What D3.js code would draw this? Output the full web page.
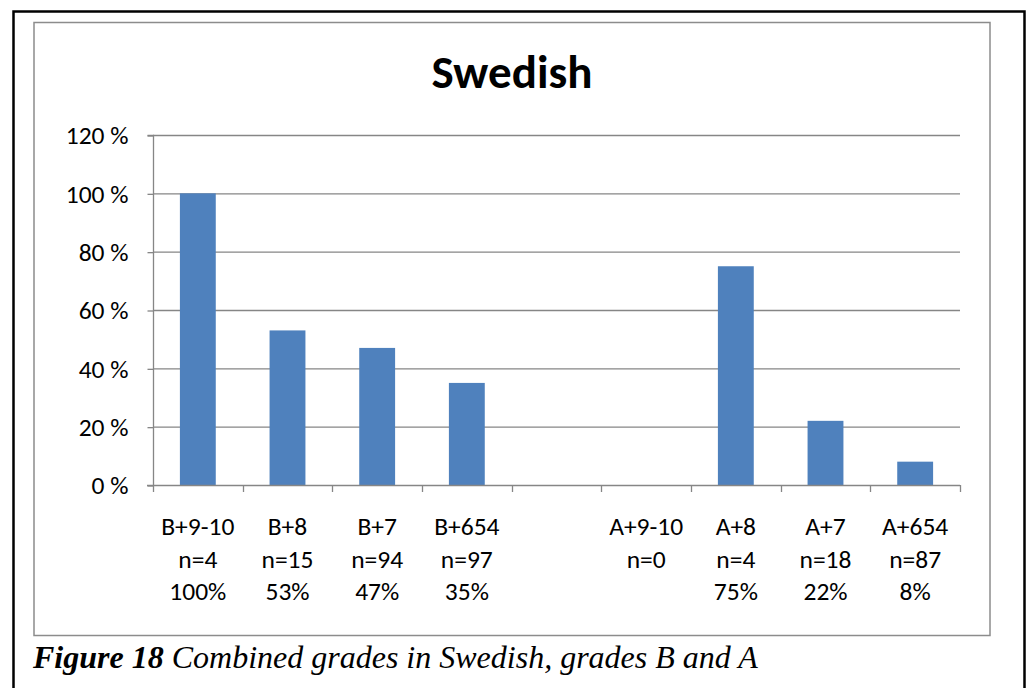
<!DOCTYPE html>
<html><head><meta charset="utf-8">
<script src="https://cdn.jsdelivr.net/npm/d3@7"></script>
<style>body{margin:0;background:#fff;}svg{display:block;}</style>
</head><body>
<script>
const categories = ["B+9-10","B+8","B+7","B+654","","A+9-10","A+8","A+7","A+654"];
const nLabels = ["n=4","n=15","n=94","n=97","","n=0","n=4","n=18","n=87"];
const pctLabels = ["100%","53%","47%","35%","","","75%","22%","8%"];
const values = [100,53,47,35,null,0,75,22,8];
const yTicks = [0,20,40,60,80,100,120];

const W=1029,H=688;
const FONT="Carlito, Lato, sans-serif";
const svg=d3.select("body").append("svg").attr("width",W).attr("height",H);
svg.append("rect").attr("width",W).attr("height",H).attr("fill","#fff");
svg.append("path").attr("d","M13.5,700 V11.5 H1024.5 V700").attr("fill","none").attr("stroke","#000").attr("stroke-width",2.5);
svg.append("rect").attr("x",34).attr("y",22.5).attr("width",956).attr("height",613).attr("fill","none").attr("stroke","#8c8c8c").attr("stroke-width",1.5);

const keys = categories.map((c,i)=>i);
const x=d3.scaleBand().domain(keys).range([153,960]).paddingInner(0.6).paddingOuter(0.3);
const xs=d3.scaleLinear().domain([0,9]).range([153,960]);
const y=d3.scaleLinear().domain([0,120]).range([485,135]);

svg.append("g").selectAll("line").data(yTicks.filter(d=>d>0)).join("line")
  .attr("x1",153).attr("x2",960).attr("y1",d=>y(d)+0.5).attr("y2",d=>y(d)+0.5)
  .attr("stroke","#868686").attr("stroke-width",1.3);

const yAxis=d3.axisLeft(y).tickValues(yTicks).tickSize(6).tickPadding(19).tickFormat(d=>d+" %");
const gy=svg.append("g").attr("transform","translate(153.5,0.5)").call(yAxis);
gy.select(".domain").attr("stroke","#868686").attr("stroke-width",1.3).attr("d","M-6,"+(y(120))+"H0V"+y(0));
gy.selectAll(".tick line").attr("stroke","#868686").attr("stroke-width",1.3);
gy.selectAll("text").attr("font-family",FONT).attr("font-size",25.5).attr("fill","#000").attr("dy","0.33em");

svg.append("g").selectAll("rect").data(values.map((v,i)=>({v,i})).filter(d=>d.v!=null && d.v>0)).join("rect")
  .attr("x",d=>x(d.i)).attr("width",x.bandwidth())
  .attr("y",d=>y(d.v)).attr("height",d=>y(0)-y(d.v)).attr("fill","#4F81BD");

const gx=svg.append("g");
gx.append("line").attr("x1",147).attr("x2",960).attr("y1",y(0)+0.5).attr("y2",y(0)+0.5).attr("stroke","#868686").attr("stroke-width",1.3);
gx.selectAll("line.t").data(d3.range(10)).join("line").attr("class","t")
  .attr("x1",d=>Math.round(xs(d))+0.5).attr("x2",d=>Math.round(xs(d))+0.5).attr("y1",y(0)).attr("y2",y(0)+7)
  .attr("stroke","#868686").attr("stroke-width",1.3);

const lab=svg.append("g").attr("font-family",FONT).attr("font-size",25.5).attr("text-anchor","middle").attr("fill","#000");
keys.forEach(i=>{
  const cx=xs(i+0.5);
  [categories[i],nLabels[i],pctLabels[i]].forEach((t,j)=>{
    if(t) lab.append("text").attr("x",cx).attr("y",535+j*32.5).text(t);
  });
});

svg.append("text").attr("x",512).attr("y",88).attr("text-anchor","middle")
  .attr("font-family",FONT).attr("font-weight","bold").attr("font-size",47).text("Swedish");

const cap=svg.append("text").attr("x",33).attr("y",668).attr("font-family","Liberation Serif, Times New Roman, serif").attr("font-size",32).attr("font-style","italic");
cap.append("tspan").attr("font-weight","bold").text("Figure 18");
cap.append("tspan").text(" Combined grades in Swedish, grades B and A");
</script>
</body></html>
